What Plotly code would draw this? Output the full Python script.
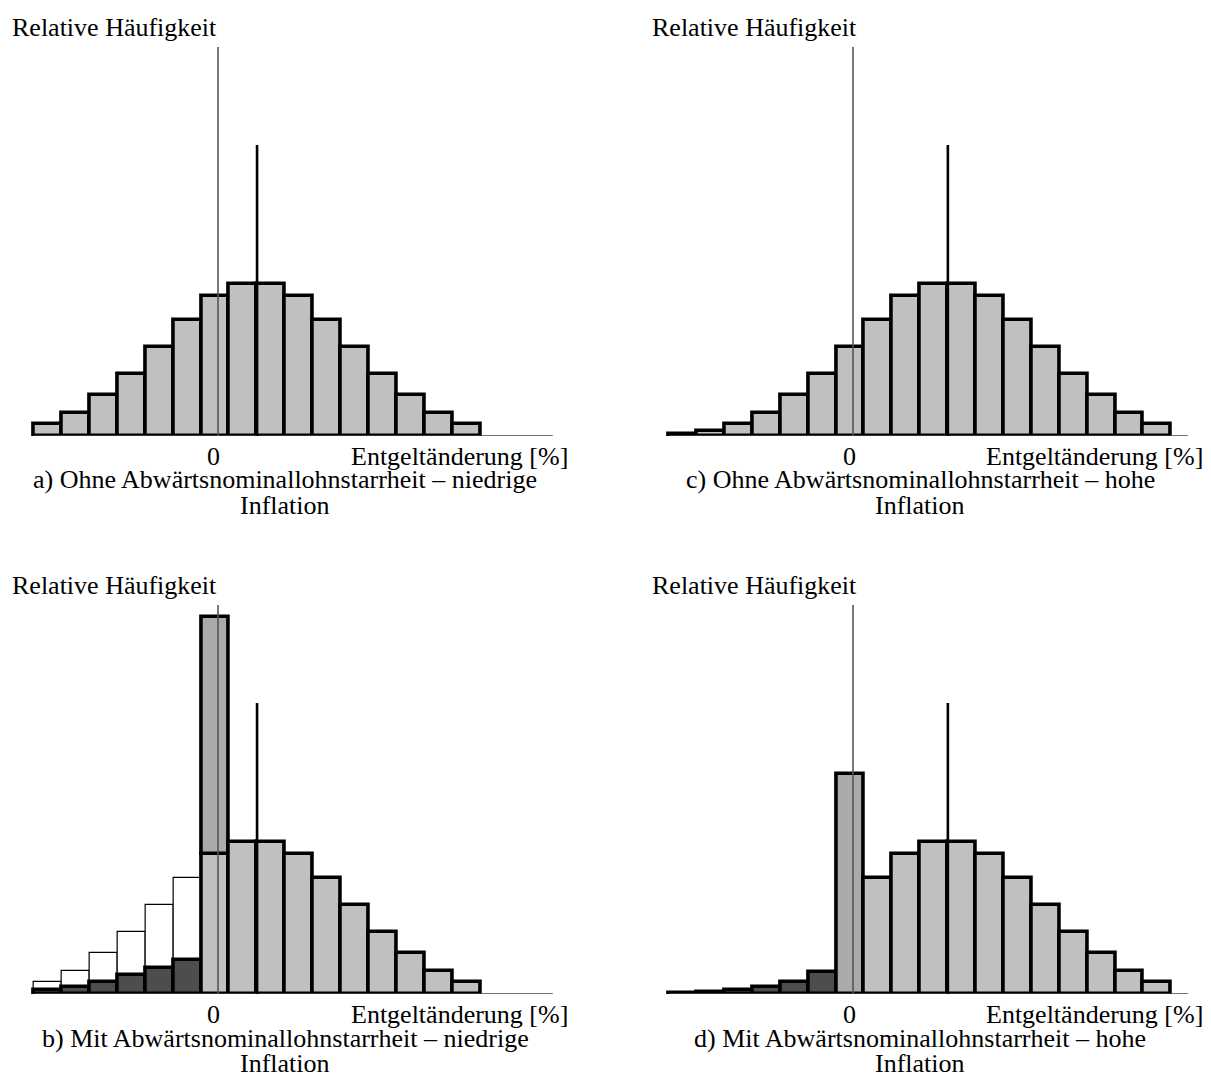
import plotly.graph_objects as go

W, H = 1211, 1091

# ---------------- data (x in percentage points, y in relative frequency units) -------------
centers_low = [-6.1, -5.1, -4.1, -3.1, -2.1, -1.1, -0.1, 0.9, 1.9, 2.9, 3.9, 4.9, 5.9, 6.9, 7.9, 8.9]
freq_a = [12, 23, 41, 62, 89, 116, 140, 152, 152, 140, 116, 89, 62, 41, 23, 12]

centers_high = [-6.1, -5.1, -4.1, -3.1, -2.1, -1.1, -0.1, 0.9, 1.9, 2.9, 3.9, 4.9, 5.9, 6.9, 7.9, 8.9, 9.9, 10.9]
freq_c = [2, 5, 12, 23, 41, 62, 89, 116, 140, 152, 152, 140, 116, 89, 62, 41, 23, 12]

# panel b: nominal wage rigidity, low inflation
neg_centers_b = [-6.1, -5.1, -4.1, -3.1, -2.1, -1.1]
counterfactual_b = [12, 23, 41, 62, 89, 116]
remaining_b = [4, 7, 12, 19, 26, 34]
zero_center = -0.1
zero_base_b = 140
zero_total_b = 377
pos_centers_b = [0.9, 1.9, 2.9, 3.9, 4.9, 5.9, 6.9, 7.9, 8.9]
pos_freq_b = [152, 152, 140, 116, 89, 62, 41, 23, 12]

# panel d: nominal wage rigidity, high inflation
neg_centers_d = [-6.1, -5.1, -4.1, -3.1, -2.1, -1.1]
remaining_d = [1, 2, 4, 7, 12, 22]
zero_total_d = 220
pos_centers_d = [0.9, 1.9, 2.9, 3.9, 4.9, 5.9, 6.9, 7.9, 8.9, 9.9, 10.9]
pos_freq_d = [116, 140, 152, 152, 140, 116, 89, 62, 41, 23, 12]

mean_low = 1.4
mean_high = 3.4
zero_line_top = 389
mean_line_top = 291
axis_start = -6.6
axis_end = 12.0

ylabel = "Relative Häufigkeit"
xlabel = "Entgeltänderung [%]"
captions = {
    "a": ["a) Ohne Abwärtsnominallohnstarrheit – niedrige", "Inflation"],
    "b": ["b) Mit Abwärtsnominallohnstarrheit – niedrige", "Inflation"],
    "c": ["c) Ohne Abwärtsnominallohnstarrheit – hohe", "Inflation"],
    "d": ["d) Mit Abwärtsnominallohnstarrheit – hohe", "Inflation"],
}

# ---------------- style ----------------
LIGHT = "#c0c0c0"
SPIKE = "#aaaaaa"
DARK = "#4d4d4d"
FONT = "Liberation Serif"
FS = 26
OUT = 3.6
OFF = 8  # page body margin offset in the browser

fig = go.Figure()

# panel geometry in (page) pixels
unit = 27.9
panels = {
    "a": dict(ax="x", ay="y", zero_px=218, base_px=436, left_px=10, cap_px=285),
    "c": dict(ax="x2", ay="y2", zero_px=853, base_px=436, left_px=650, cap_px=920),
    "b": dict(ax="x3", ay="y3", zero_px=218, base_px=994, left_px=10, cap_px=285),
    "d": dict(ax="x4", ay="y4", zero_px=853, base_px=994, left_px=650, cap_px=920),
}
XR = [-7.5, 12.5]
YR = [0, 400]


def px(xp):
    return (xp - OFF) / W


def py(yp):
    return 1 - (yp - OFF) / H


def bars(name, xs, ys, fill, lw=OUT, base=None):
    p = panels[name]
    fig.add_trace(go.Bar(
        x=xs, y=ys, base=base, width=1.0, xaxis=p["ax"], yaxis=p["ay"],
        marker=dict(color=fill, line=dict(color="black", width=lw)),
        showlegend=False, hoverinfo="skip"))


def lines(name, mean):
    p = panels[name]
    fig.add_trace(go.Scatter(x=[axis_start, axis_end], y=[0, 0], mode="lines",
                             line=dict(color="#444444", width=1.4),
                             xaxis=p["ax"], yaxis=p["ay"], showlegend=False, hoverinfo="skip"))
    fig.add_trace(go.Scatter(x=[0, 0], y=[0, zero_line_top], mode="lines",
                             line=dict(color="#555555", width=1.6),
                             xaxis=p["ax"], yaxis=p["ay"], showlegend=False, hoverinfo="skip"))
    fig.add_trace(go.Scatter(x=[mean, mean], y=[0, mean_line_top], mode="lines",
                             line=dict(color="black", width=2.6),
                             xaxis=p["ax"], yaxis=p["ay"], showlegend=False, hoverinfo="skip"))


# panel a
bars("a", centers_low, freq_a, LIGHT)
lines("a", mean_low)
# panel c
bars("c", centers_high, freq_c, LIGHT)
lines("c", mean_high)
# panel b
bars("b", neg_centers_b, counterfactual_b, "white", lw=1.2)
bars("b", neg_centers_b, remaining_b, DARK)
bars("b", [zero_center], [zero_base_b], LIGHT)
bars("b", [zero_center], [zero_total_b - zero_base_b], SPIKE, base=[zero_base_b])
bars("b", pos_centers_b, pos_freq_b, LIGHT)
lines("b", mean_low)
# panel d
bars("d", neg_centers_d, remaining_d, DARK)
bars("d", [zero_center], [zero_total_d], SPIKE)
bars("d", pos_centers_d, pos_freq_d, LIGHT)
lines("d", mean_high)

layout = dict(width=W, height=H, margin=dict(l=0, r=0, t=0, b=0),
              paper_bgcolor="white", plot_bgcolor="rgba(0,0,0,0)",
              barmode="overlay", bargap=0, showlegend=False,
              font=dict(family=FONT, size=FS, color="black"))

annotations = []
for i, (name, p) in enumerate(panels.items()):
    suffix = "" if i == 0 else str(i + 1)
    left = p["zero_px"] + XR[0] * unit
    right = p["zero_px"] + XR[1] * unit
    bottom = p["base_px"]
    top = p["base_px"] - (YR[1] - YR[0])
    layout["xaxis" + suffix] = dict(domain=[px(left), px(right)], range=XR, visible=False,
                                    fixedrange=True, anchor="y" + suffix)
    layout["yaxis" + suffix] = dict(domain=[py(bottom), py(top)], range=YR, visible=False,
                                    fixedrange=True, anchor="x" + suffix)
    by = p["base_px"]
    annotations.append(dict(text=ylabel, xref="paper", yref="paper", x=px(p["left_px"]),
                            y=py(by - 409), xanchor="left", yanchor="middle", showarrow=False))
    annotations.append(dict(text="0", xref="paper", yref="paper", x=px(p["zero_px"] - 4),
                            y=py(by + 20), xanchor="center", yanchor="middle", showarrow=False))
    annotations.append(dict(text=xlabel, xref="paper", yref="paper", x=px(p["zero_px"] + 352),
                            y=py(by + 20), xanchor="right", yanchor="middle", showarrow=False))
    annotations.append(dict(text=captions[name][0], xref="paper", yref="paper", x=px(p["cap_px"]),
                            y=py(by + 44), xanchor="center", yanchor="middle", showarrow=False))
    annotations.append(dict(text=captions[name][1], xref="paper", yref="paper", x=px(p["cap_px"]),
                            y=py(by + 69), xanchor="center", yanchor="middle", showarrow=False))

layout["annotations"] = annotations
fig.update_layout(**layout)
fig.write_html("out.html")
